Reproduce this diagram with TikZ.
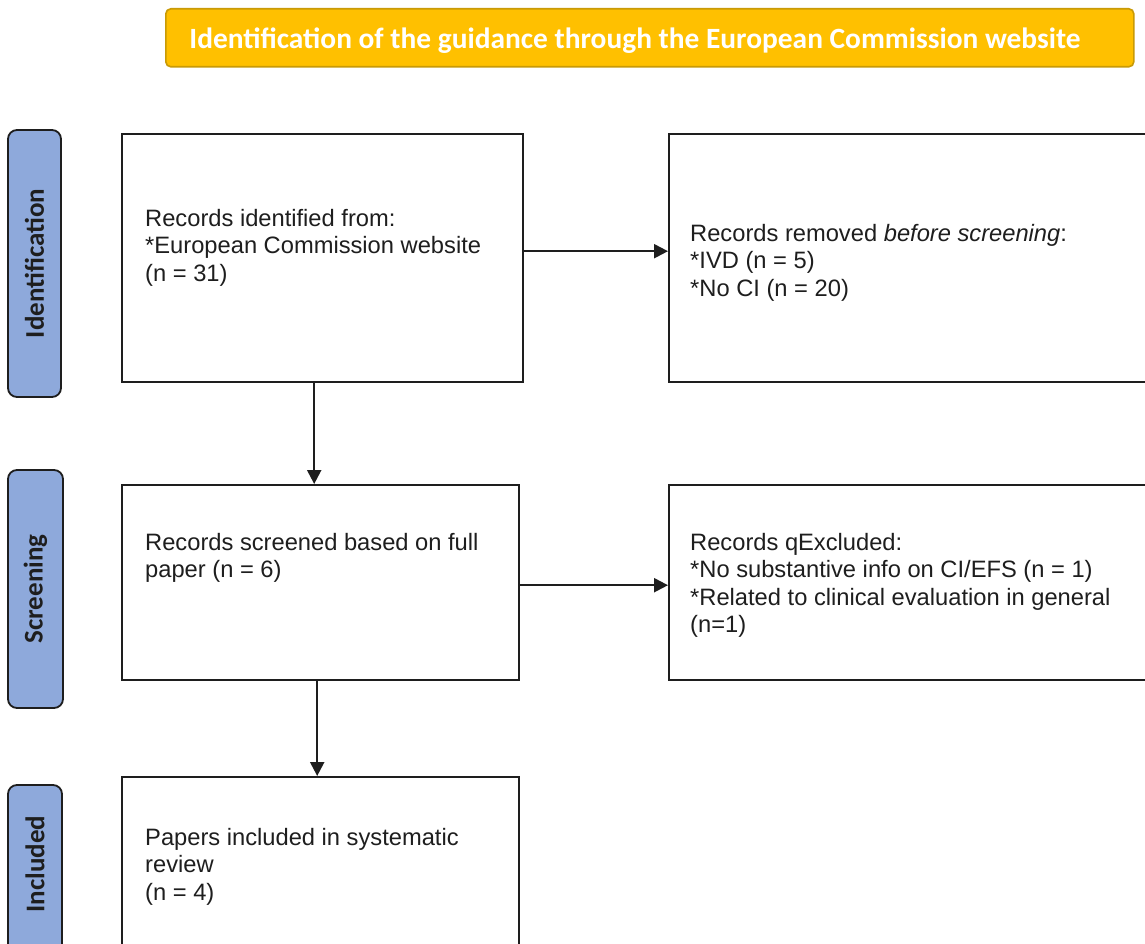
\documentclass[tikz,border=0pt]{standalone}
\usepackage{fontspec}
\setmainfont{Liberation Sans}
\newfontfamily\headfont{Carlito}
\usetikzlibrary{arrows.meta}
\definecolor{bannerfill}{HTML}{FFC000}
\definecolor{bannerline}{HTML}{C99A06}
\definecolor{phasefill}{HTML}{8EA9DB}
\definecolor{ink}{HTML}{1E1E1E}
\tikzset{
  flowbox/.style={draw=ink, line width=2.4pt, fill=white, inner sep=0pt, anchor=north west},
  flowtext/.style={inner sep=0pt, anchor=north west, align=left, text=ink,
    font=\fontsize{23.7}{27.5}\selectfont},
  phase/.style={draw=ink, line width=1.8pt, fill=phasefill, rounded corners=9pt},
  phasetext/.style={rotate=90, text=ink, font=\headfont\bfseries\fontsize{27}{30}\selectfont},
  flowarrow/.style={draw=ink, line width=2.2pt, -{Triangle[length=14pt,width=14pt]}}
}
\begin{document}
\begin{tikzpicture}[x=1pt,y=-1pt]
\useasboundingbox (0,0) rectangle (1145,944);
\clip (0,0) rectangle (1145,944);
\fill[white] (0,0) rectangle (1145,944);

% banner
\node[draw=bannerline, line width=1.6pt, fill=bannerfill, rounded corners=5pt,
      minimum width=968pt, minimum height=58pt, inner sep=0pt, anchor=north west]
      (banner) at (165,8) {};
\node[text=white, font=\headfont\bfseries\fontsize{29.4}{32}\selectfont]
      (bannertext) at (635,40.5) {Identification of the guidance through the European Commission website};

% phase labels on the left
\draw[phase] (8,130) rectangle (61,397);
\node[phasetext] (pid) at (34.5,263.5) {Identification};
\draw[phase] (8,470) rectangle (63,708);
\node[phasetext] (psc) at (35.5,589) {Screening};
\draw[phase] (8,785) rectangle (62,960);
\node[phasetext] (pin) at (35,864) {Included};

% flow boxes
\node[flowbox, minimum width=401pt, minimum height=248pt] (b1) at (121,133) {};
\node[flowbox, minimum width=500pt, minimum height=248pt] (b2) at (668,133) {};
\node[flowbox, minimum width=397pt, minimum height=195pt] (b3) at (121,484) {};
\node[flowbox, minimum width=500pt, minimum height=195pt] (b4) at (668,484) {};
\node[flowbox, minimum width=397pt, minimum height=200pt] (b5) at (121,776) {};

% box texts
\node[flowtext] (t1) at (145,209) {Records identified from:\\*European Commission website\\(n = 31)};
\node[flowtext] (t2) at (690,224) {Records removed \textit{before screening}:\\*IVD (n = 5)\\*No CI (n = 20)};
\node[flowtext] (t3) at (145,533) {Records screened based on full\\paper (n = 6)};
\node[flowtext] (t4) at (690,533) {Records qExcluded:\\*No substantive info on CI/EFS (n = 1)\\*Related to clinical evaluation in general\\(n=1)};
\node[flowtext] (t5) at (145,828) {Papers included in systematic\\review\\(n = 4)};

% connectors
\draw[flowarrow] ([yshift=7pt]b1.east) -- ([yshift=7pt]b1.east -| b2.west);
\draw[flowarrow] ([xshift=-8.5pt]b1.south) -- ([xshift=-8.5pt]b1.south |- b3.north);
\draw[flowarrow] ([yshift=-2.5pt]b3.east) -- ([yshift=-2.5pt]b3.east -| b4.west);
\draw[flowarrow] ([xshift=-3.5pt]b3.south) -- ([xshift=-3.5pt]b3.south |- b5.north);
\end{tikzpicture}
\end{document}
